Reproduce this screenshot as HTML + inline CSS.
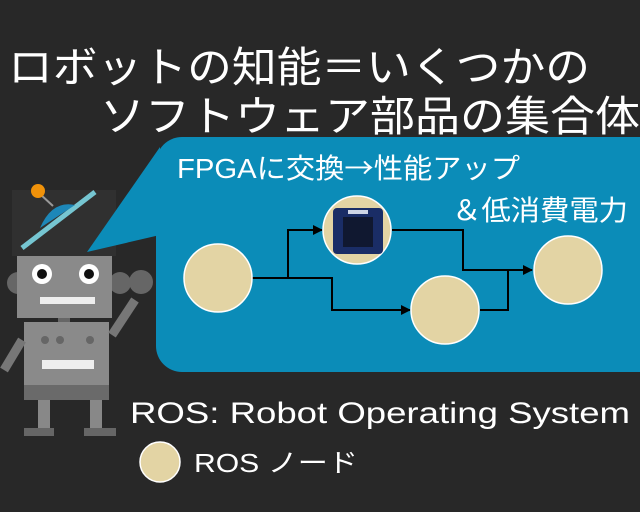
<!DOCTYPE html>
<html><head><meta charset="utf-8"><style>
html,body{margin:0;padding:0;background:#282828;}
svg{display:block}
text{font-family:"Liberation Sans","Noto Sans CJK JP",sans-serif;fill:#fff;}
</style></head><body>
<svg width="640" height="512" viewBox="0 0 640 512" xmlns="http://www.w3.org/2000/svg">
<defs>
<marker id="a" markerWidth="10" markerHeight="10" refX="9" refY="5" orient="auto" markerUnits="userSpaceOnUse"><path d="M0,0 L10,5 L0,10 z" fill="#000"/></marker>
</defs>
<rect width="640" height="512" fill="#282828"/>
<text x="8" y="82" font-size="42" textLength="582" lengthAdjust="spacingAndGlyphs">ロボットの知能＝いくつかの</text>
<text x="100" y="131" font-size="42" textLength="540" lengthAdjust="spacingAndGlyphs">ソフトウェア部品の集合体</text>
<!-- robot -->
<g>
<rect x="12" y="190" width="104" height="66" fill="#303030"/>
<line x1="22" y1="248" x2="95" y2="192" stroke="#76c6d2" stroke-width="5"/>
<path d="M40,228 Q52,200 75,205 Z" fill="#1d87b8"/>
<line x1="40" y1="194" x2="53" y2="206" stroke="#999" stroke-width="2"/>
<circle cx="38" cy="191" r="7" fill="#f0920a"/>
<circle cx="18" cy="283" r="11" fill="#666"/>
<circle cx="120" cy="283" r="11" fill="#666"/>
<rect x="17" y="256" width="95" height="62" fill="#8a8a8a"/>
<circle cx="42" cy="274" r="10" fill="#fff"/><circle cx="42" cy="274" r="5" fill="#111"/>
<circle cx="89" cy="274" r="10" fill="#fff"/><circle cx="89" cy="274" r="5" fill="#111"/>
<rect x="40" y="297" width="55" height="7" fill="#eee"/>
<rect x="58" y="318" width="12" height="8" fill="#666"/>
<rect x="24" y="322" width="85" height="75" fill="#8a8a8a"/>
<rect x="24" y="385" width="85" height="15" fill="#6a6a6a"/>
<rect x="42" y="360" width="52" height="9" fill="#eee"/>
<circle cx="45" cy="340" r="4" fill="#666"/><circle cx="60" cy="340" r="4" fill="#666"/><circle cx="90" cy="340" r="4" fill="#666"/>
<path d="M112,335 L135,300" stroke="#777" stroke-width="9"/>
<circle cx="141" cy="282" r="12" fill="#666"/>
<path d="M22,340 L4,370" stroke="#777" stroke-width="9"/>
<rect x="38" y="400" width="12" height="28" fill="#888"/>
<rect x="90" y="400" width="12" height="28" fill="#888"/>
<rect x="24" y="428" width="30" height="8" fill="#666"/>
<rect x="84" y="428" width="32" height="8" fill="#666"/>
</g>
<!-- bubble -->
<path d="M160,147 L87,252 L160,235 z" fill="#0b8cb8"/>
<rect x="156" y="137" width="510" height="235" rx="26" fill="#0b8cb8"/>
<text x="177" y="178" font-size="28" textLength="343" lengthAdjust="spacingAndGlyphs">FPGAに交換<tspan style="font-family:'Noto Sans CJK JP',sans-serif">→</tspan>性能アップ</text>
<text x="452" y="220" font-size="28" textLength="176" lengthAdjust="spacingAndGlyphs">＆低消費電力</text>
<g stroke="#000" stroke-width="2" fill="none">
<polyline points="252,278 288,278 288,230 322,230" marker-end="url(#a)"/>
<polyline points="288,278 332,278 332,310 410,310" marker-end="url(#a)"/>
<polyline points="392,230 463,230 463,270 532,270" marker-end="url(#a)"/>
<polyline points="480,310 508,310 508,270"/>
</g>
<g fill="#e3d4a4" stroke="#fff" stroke-width="1.5">
<circle cx="218" cy="278" r="34"/>
<circle cx="357" cy="230" r="34"/>
<circle cx="445" cy="310" r="34"/>
<circle cx="568" cy="270" r="34"/>
</g>
<rect x="333" y="208" width="50" height="46" rx="4" fill="#1a2d66"/>
<rect x="343" y="217" width="30" height="30" fill="#101830"/>
<rect x="348" y="210" width="20" height="4" fill="#cfd6e6"/>
<text x="130" y="423" font-size="30" textLength="500" lengthAdjust="spacingAndGlyphs">ROS: Robot Operating System</text>
<circle cx="160" cy="462" r="20" fill="#e3d4a4" stroke="#fff" stroke-width="1.5"/>
<text x="194" y="472" font-size="26" textLength="164" lengthAdjust="spacingAndGlyphs">ROS ノード</text>
</svg>
</body></html>
